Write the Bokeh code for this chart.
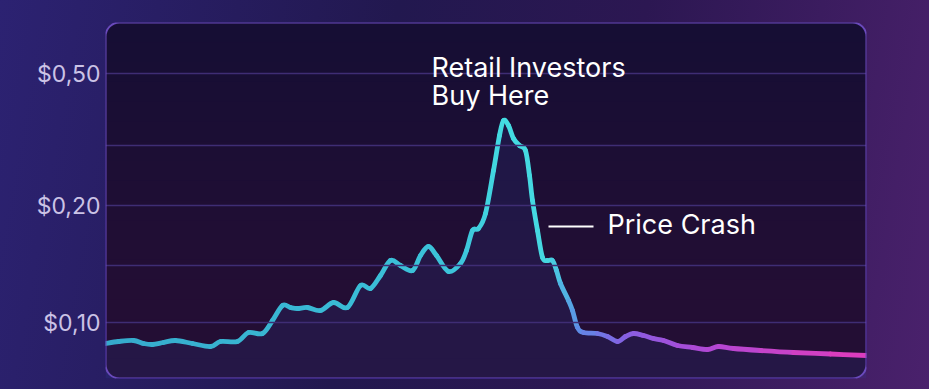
from bokeh.plotting import figure
from bokeh.embed import file_html
from bokeh.resources import INLINE
from bokeh.models import BoxAnnotation, Label, FixedTicker, ColumnDataSource

# ---- data (x: time index, y: chart price units) ----
x_vals = [0, 13, 28, 38, 47, 58, 70, 87, 105, 115, 132, 143, 157, 167, 177, 185,
          192, 202, 215, 228, 242, 255, 265, 275, 285, 295, 307, 315, 323, 331,
          343, 355, 361, 367, 373, 380, 388, 394, 398, 403, 408, 414, 420, 424,
          427, 432, 437, 442, 447, 451, 455, 463, 467, 472, 478, 492, 502, 512,
          520, 528, 538, 548, 558, 572, 587, 602, 613, 628, 655, 688, 725, 761]
y_vals = [35, 37, 38, 35, 34, 36, 38, 35, 32, 37, 37, 46, 45, 58, 73, 71,
          70, 71, 68, 76, 71, 93, 90, 103, 118, 113, 108, 123, 132, 123,
          107, 115, 128, 148, 150, 165, 208, 243, 258, 253, 240, 233, 228, 203,
          178, 148, 121, 118, 118, 108, 95, 78, 68, 51, 46, 45, 42, 37,
          42, 45, 43, 40, 38, 33, 31, 29, 32, 30, 28, 26, 24.5, 23]

y_ticks = [56, 173, 305]
y_tick_labels = ["$0,10", "$0,20", "$0,50"]
grid_ticks = [56, 113, 173, 233, 305]

ann_peak_text = ["Retail Investors", "Buy Here"]
ann_crash_text = "Price Crash"

X_MAX, Y_MAX = 761, 356

p = figure(width=929, height=389, x_range=(0, X_MAX), y_range=(0, Y_MAX),
           output_backend="svg", toolbar_location=None,
           min_border_left=105, min_border_right=63, min_border_top=22,
           min_border_bottom=11)
p.background_fill_alpha = 0
p.border_fill_alpha = 0
p.outline_line_color = None
p.styles = {"background": "linear-gradient(100deg, #2c2272 0%, #22184f 40%, #2c1752 65%, #4a216c 100%)"}

# panel (rounded)
p.add_layout(BoxAnnotation(fill_color="#150e33", fill_alpha=1.0, line_color=None,
                           border_radius=14, level="underlay"))
n_b = 18
for k in range(n_b):
    top = Y_MAX * (1 - k / n_b)
    p.add_layout(BoxAnnotation(top=top, fill_color="#2e1749", fill_alpha=0.06,
                               line_color=None, border_radius=(0, 0, 14, 14),
                               level="underlay"))
p.add_layout(BoxAnnotation(fill_alpha=0, line_color="#6a4abc", line_alpha=1.0,
                           line_width=2, border_radius=14, level="overlay"))

# axes / grid
p.xaxis.visible = False
p.xgrid.visible = False
p.ygrid.ticker = FixedTicker(ticks=grid_ticks)
p.ygrid.level = "glyph"
p.ygrid.grid_line_color = "#3f2d74"
p.ygrid.grid_line_width = 1.3
ya = p.yaxis[0]
ya.ticker = FixedTicker(ticks=y_ticks)
ya.major_label_overrides = {t: l for t, l in zip(y_ticks, y_tick_labels)}
ya.axis_line_color = None
ya.major_tick_line_color = None
ya.minor_tick_line_color = None
ya.major_tick_out = 0
ya.major_tick_in = 0
ya.major_label_text_font = "Inter"
ya.major_label_text_font_size = "23px"
ya.major_label_text_color = "#cbc3e6"
ya.major_label_standoff = 5

# area under the line
src = ColumnDataSource(dict(x=x_vals, y=y_vals, y0=[0] * len(x_vals)))
p.varea(x="x", y1="y0", y2="y", source=src, fill_color="#2d4a9e", fill_alpha=0.17)

# gradient, smoothly drawn line (Catmull-Rom rendered as bezier pieces)
stops = [(0, (0x36, 0xaa, 0xcc)), (355, (0x3c, 0xc4, 0xda)), (400, (0x44, 0xdc, 0xe2)),
         (445, (0x46, 0xd6, 0xe0)), (475, (0x5e, 0x8c, 0xe6)), (520, (0x86, 0x60, 0xe2)),
         (600, (0xb0, 0x48, 0xd4)), (761, (0xe0, 0x3c, 0xbc))]

def col_at(x):
    for (x0, c0), (x1, c1) in zip(stops[:-1], stops[1:]):
        if x0 <= x <= x1:
            t = (x - x0) / (x1 - x0)
            c = [round(a + (b - a) * t) for a, b in zip(c0, c1)]
            return "#%02x%02x%02x" % tuple(c)
    return "#%02x%02x%02x" % stops[-1][1]

n = len(x_vals)
seg = dict(x0=[], y0=[], x1=[], y1=[], cx0=[], cy0=[], cx1=[], cy1=[], c=[])
for i in range(n - 1):
    im, ip2 = max(i - 1, 0), min(i + 2, n - 1)
    seg["x0"].append(x_vals[i]); seg["y0"].append(y_vals[i])
    seg["x1"].append(x_vals[i + 1]); seg["y1"].append(y_vals[i + 1])
    seg["cx0"].append(x_vals[i] + (x_vals[i + 1] - x_vals[im]) / 6)
    seg["cy0"].append(y_vals[i] + (y_vals[i + 1] - y_vals[im]) / 6)
    seg["cx1"].append(x_vals[i + 1] - (x_vals[ip2] - x_vals[i]) / 6)
    seg["cy1"].append(y_vals[i + 1] - (y_vals[ip2] - y_vals[i]) / 6)
    seg["c"].append(col_at((x_vals[i] + x_vals[i + 1]) / 2))
p.bezier(x0="x0", y0="y0", x1="x1", y1="y1", cx0="cx0", cy0="cy0", cx1="cx1",
         cy1="cy1", line_color="c", line_width=4.8, line_cap="round",
         source=ColumnDataSource(seg))

# annotations
peak_i = y_vals.index(max(y_vals))
for j, t in enumerate(ann_peak_text):
    p.add_layout(Label(x=x_vals[peak_i] - 72, y=311 - 28 * j, text=t,
                       text_font="Inter", text_font_size="27px", text_color="#ffffff",
                       text_baseline="alphabetic"))
crash_y = 152
p.segment(x0=[443], y0=[crash_y], x1=[488], y1=[crash_y], line_color="#ffffff",
          line_width=2)
p.add_layout(Label(x=502, y=crash_y + 2, text=ann_crash_text, text_font="Inter",
                   text_font_size="27px", text_color="#ffffff", text_baseline="middle"))

open("out.html", "w").write(file_html(p, INLINE))
